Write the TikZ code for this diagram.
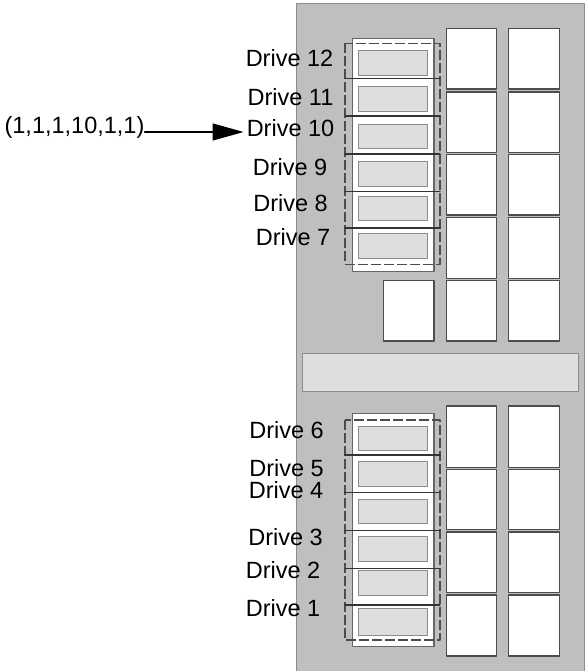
\documentclass[tikz,border=0pt]{standalone}
\usepackage{fontspec}
\setmainfont{Liberation Sans}
\usetikzlibrary{arrows.meta}

\begin{document}
\begin{tikzpicture}[line cap=round,line join=round,x=1pt,y=-1pt,
  lbl/.style={inner sep=0pt,font=\fontsize{23.5}{28}\selectfont},
  slot/.style={draw=black!70,line width=1.2pt,fill=white},
  cage/.style={draw=black!70,line width=1.3pt,dash pattern=on 10pt off 3pt,line cap=butt},
  disk/.style={draw=black!45,line width=1pt,fill=black!13}]
		\useasboundingbox (0,0) rectangle (585,671);
		% Chassis
		\draw[draw=black!45,line width=1pt,fill=black!25] (296,4) rectangle (584,680);
		\draw[draw=black!45,line width=1pt,fill=black!13] (302.3,353.7) rectangle (578.3,391.3);
		% Baies vides
		\foreach \ya/\yb in {28.7/89,92/152.3,154.3/215,217.7/278.3,280.7/341,406/467.3,469.3/529.3,532/592.3,595/656}{
			\draw[slot] (446.7,\ya) rectangle (496.7,\yb);
			\draw[slot] (508.7,\ya) rectangle (559.3,\yb);
		}
		\draw[slot] (383.3,280.7) rectangle (434,341);
		% Cage haute
		\draw[slot,draw=black!60] (352.3,38.3) rectangle (434,271.7);
		\draw[cage] (345,43.3) rectangle (440,264.3);
		\foreach \y in {78.3,116,154,191.7,228}
			\draw[black!80,line width=1.3pt] (345,\y) -- (440,\y);
		\foreach \ya/\yb in {51/75.3,86.7/111.7,124.3/149,162/186.7,196/220.7,233.3/258.3}
			\draw[disk] (358.3,\ya) rectangle (427.7,\yb);
		% Cage basse
		\draw[slot,draw=black!60] (352.3,413.3) rectangle (434,646.7);
		\draw[cage] (345,420) rectangle (440,640);
		\foreach \y in {455,492.7,530.7,568.3,605}
			\draw[black!80,line width=1.3pt] (345,\y) -- (440,\y);
		\foreach \ya/\yb in {426/450.7,461/486,499/523.3,536.7/561.7,570.7/595,608.3/635}
			\draw[disk] (358.3,\ya) rectangle (427.7,\yb);
		% Etiquettes
		\node[lbl] (d12) at (289.5,58) {Drive 12};
		\node[lbl] (d11) at (290.5,96.7) {Drive 11};
		\node[lbl] (d10) at (290.5,128) {Drive 10};
		\node[lbl] (d9) at (290,166.7) {Drive 9};
		\node[lbl] (d8) at (290.5,202.7) {Drive 8};
		\node[lbl] (d7) at (293,236.7) {Drive 7};
		\node[lbl] (d6) at (286.5,430) {Drive 6};
		\node[lbl] (d5) at (286.5,468.3) {Drive 5};
		\node[lbl] (d4) at (286,490) {Drive 4};
		\node[lbl] (d3) at (285.5,536.7) {Drive 3};
		\node[lbl] (d2) at (283,570) {Drive 2};
		\node[lbl] (d1) at (283,608.3) {Drive 1};
		% Tuple
		\node[lbl] (tuple) at (74.5,127) {(1,1,1,10,1,1)};
		\coordinate (tip) at ([xshift=-3pt]d10.west |- 0,132);
		\draw[-{Triangle[length=31pt,width=17pt]},line width=1.3pt] (tuple.east |- tip) -- (tip);
\end{tikzpicture}
\end{document}
